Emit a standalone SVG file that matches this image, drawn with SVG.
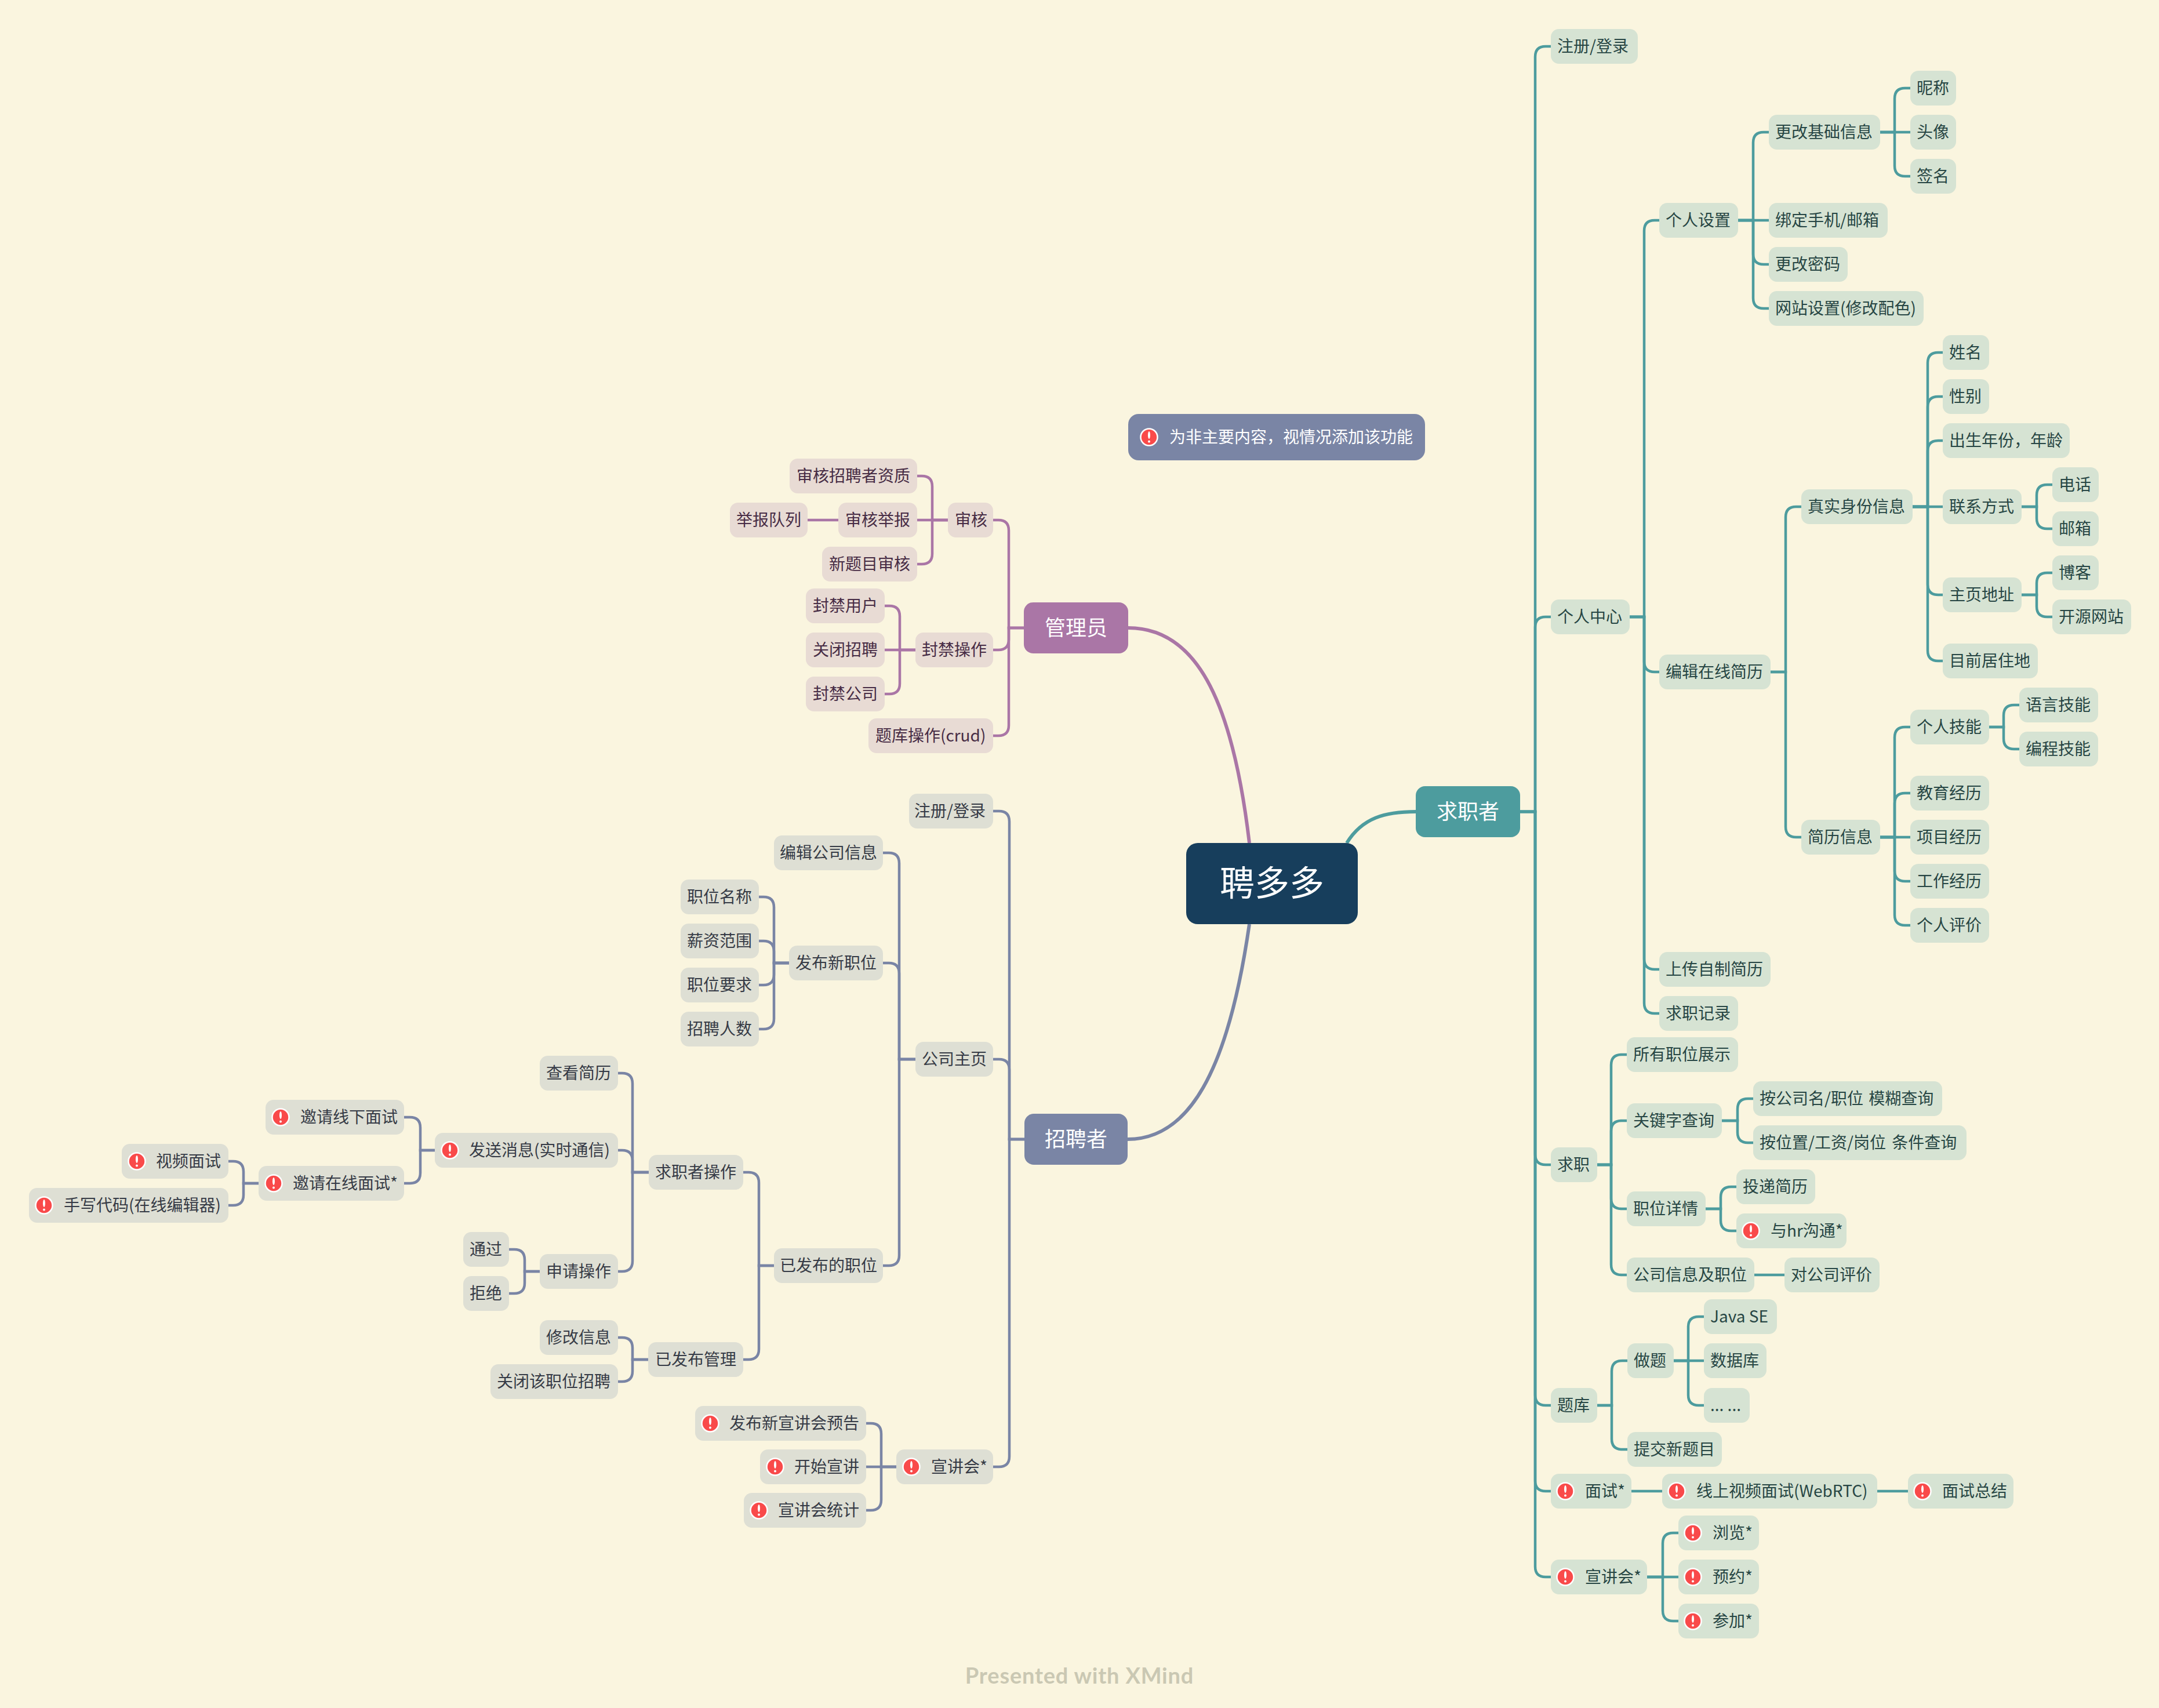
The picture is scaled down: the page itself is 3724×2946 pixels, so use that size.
<svg xmlns="http://www.w3.org/2000/svg" width="3724" height="2946" viewBox="0 0 3724 2946">
<style>
text{font-family:"Noto Sans CJK SC","Noto Sans",sans-serif;font-size:28px}
.c path{fill:none;stroke-width:4.5}
.ct path{stroke:#4d9c9e}.cp path{stroke:#aa76a6}.cs path{stroke:#7a85a5}
path.m{stroke-width:6}
.t rect{fill:#d6e3d3}.t text{fill:#274644;transform:translateX(-1px)}
.p rect{fill:#e8dbd4}.p text{fill:#472c45}
.s rect{fill:#dedfd4}.s text{fill:#363b46}
rect{rx:14px;ry:14px}
.h text{fill:#fff;font-size:36px;text-anchor:middle}
</style>
<defs><g id="warn"><circle r="14.5" fill="#f94a4a" stroke="#fff" stroke-width="2.5"/><rect x="-2" y="-10" width="4" height="13" rx="1" ry="1" fill="#fff"/><rect x="-2" y="5.5" width="4" height="4" rx="0.5" ry="0.5" fill="#fff"/></g></defs>
<rect x="0" y="0" width="3724" height="2946" fill="#faf5df" style="rx:0;ry:0"/>
<g id="connectors" class="c">
<g class="ct">
<path class="m" d="M2323 1454C2350 1410 2390 1400 2442 1400"/>
<path d="M2622 1400H2648V98Q2648 80 2666 80H2675"/>
<path d="M2622 1400H2648V1082Q2648 1064 2666 1064H2675"/>
<path d="M2622 1400H2648V1991Q2648 2009 2666 2009H2675"/>
<path d="M2622 1400H2648V2406Q2648 2424 2666 2424H2675"/>
<path d="M2622 1400H2648V2554Q2648 2572 2666 2572H2675"/>
<path d="M2622 1400H2648V2702Q2648 2720 2666 2720H2675"/>
<path d="M2811 1064H2836V398Q2836 380 2854 380H2862"/>
<path d="M2811 1064H2836V1141Q2836 1159 2854 1159H2862"/>
<path d="M2811 1064H2836V1654Q2836 1672 2854 1672H2862"/>
<path d="M2811 1064H2836V1730Q2836 1748 2854 1748H2862"/>
<path d="M2998 380H3024V246Q3024 228 3042 228H3051"/>
<path d="M2998 380H3051"/>
<path d="M2998 380H3024V438Q3024 456 3042 456H3051"/>
<path d="M2998 380H3024V514Q3024 532 3042 532H3051"/>
<path d="M3243 228H3268V170Q3268 152 3286 152H3295"/>
<path d="M3243 228H3295"/>
<path d="M3243 228H3268V286Q3268 304 3286 304H3295"/>
<path d="M3054 1159H3080V892Q3080 874 3098 874H3107"/>
<path d="M3054 1159H3080V1426Q3080 1444 3098 1444H3107"/>
<path d="M3299 874H3325V626Q3325 608 3343 608H3351"/>
<path d="M3299 874H3325V702Q3325 684 3343 684H3351"/>
<path d="M3299 874H3325V778Q3325 760 3343 760H3351"/>
<path d="M3299 874H3351"/>
<path d="M3299 874H3325V1008Q3325 1026 3343 1026H3351"/>
<path d="M3299 874H3325V1122Q3325 1140 3343 1140H3351"/>
<path d="M3487 874H3513V854Q3513 836 3531 836H3540"/>
<path d="M3487 874H3513V894Q3513 912 3531 912H3540"/>
<path d="M3487 1026H3513V1006Q3513 988 3531 988H3540"/>
<path d="M3487 1026H3513V1046Q3513 1064 3531 1064H3540"/>
<path d="M3243 1444H3268V1272Q3268 1254 3286 1254H3295"/>
<path d="M3243 1444H3268V1386Q3268 1368 3286 1368H3295"/>
<path d="M3243 1444H3295"/>
<path d="M3243 1444H3268V1502Q3268 1520 3286 1520H3295"/>
<path d="M3243 1444H3268V1578Q3268 1596 3286 1596H3295"/>
<path d="M3431 1254H3456V1234Q3456 1216 3474 1216H3483"/>
<path d="M3431 1254H3456V1274Q3456 1292 3474 1292H3483"/>
<path d="M2755 2009H2779V1837Q2779 1819 2797 1819H2806"/>
<path d="M2755 2009H2779V1951Q2779 1933 2797 1933H2806"/>
<path d="M2755 2009H2779V2067Q2779 2085 2797 2085H2806"/>
<path d="M2755 2009H2779V2181Q2779 2199 2797 2199H2806"/>
<path d="M2970 1933H2997V1913Q2997 1895 3015 1895H3024"/>
<path d="M2970 1933H2997V1953Q2997 1971 3015 1971H3024"/>
<path d="M2942 2085H2968V2065Q2968 2047 2986 2047H2995"/>
<path d="M2942 2085H2968V2105Q2968 2123 2986 2123H2995"/>
<path d="M3026 2199H3078"/>
<path d="M2755 2424H2780V2365Q2780 2347 2798 2347H2807"/>
<path d="M2755 2424H2780V2482Q2780 2500 2798 2500H2807"/>
<path d="M2887 2347H2912V2289Q2912 2271 2930 2271H2939"/>
<path d="M2887 2347H2939"/>
<path d="M2887 2347H2912V2406Q2912 2424 2930 2424H2939"/>
<path d="M2814 2572H2867"/>
<path d="M3238 2572H3291"/>
<path d="M2841 2720H2868V2662Q2868 2644 2886 2644H2895"/>
<path d="M2841 2720H2895"/>
<path d="M2841 2720H2868V2778Q2868 2796 2886 2796H2895"/>
</g>
<g class="cp">
<path class="m" d="M1946 1083C2060 1083 2125 1200 2155 1454"/>
<path d="M1766 1083H1740V915Q1740 897 1722 897H1713"/>
<path d="M1766 1083H1740V1103Q1740 1121 1722 1121H1713"/>
<path d="M1766 1083H1740V1251Q1740 1269 1722 1269H1713"/>
<path d="M1635 897H1608V839Q1608 821 1590 821H1582"/>
<path d="M1635 897H1582"/>
<path d="M1635 897H1608V955Q1608 973 1590 973H1582"/>
<path d="M1446 897H1393"/>
<path d="M1579 1121H1552V1063Q1552 1045 1534 1045H1526"/>
<path d="M1579 1121H1526"/>
<path d="M1579 1121H1552V1179Q1552 1197 1534 1197H1526"/>
</g>
<g class="cs">
<path class="m" d="M1945 1965C2050 1965 2118 1850 2155 1594"/>
<path d="M1767 1965H1741V1417Q1741 1399 1723 1399H1713"/>
<path d="M1767 1965H1741V1845Q1741 1827 1723 1827H1713"/>
<path d="M1767 1965H1741V2512Q1741 2530 1723 2530H1713"/>
<path d="M1579 1827H1551V1489Q1551 1471 1533 1471H1523"/>
<path d="M1579 1827H1551V1679Q1551 1661 1533 1661H1523"/>
<path d="M1579 1827H1551V2165Q1551 2183 1533 2183H1523"/>
<path d="M1361 1661H1335V1565Q1335 1547 1317 1547H1309"/>
<path d="M1361 1661H1335V1641Q1335 1623 1317 1623H1309"/>
<path d="M1361 1661H1335V1681Q1335 1699 1317 1699H1309"/>
<path d="M1361 1661H1335V1757Q1335 1775 1317 1775H1309"/>
<path d="M1335 2183H1309V2040Q1309 2022 1291 2022H1282"/>
<path d="M1335 2183H1309V2327Q1309 2345 1291 2345H1282"/>
<path d="M1119 2022H1091V1869Q1091 1851 1073 1851H1066"/>
<path d="M1119 2022H1091V2002Q1091 1984 1073 1984H1066"/>
<path d="M1119 2022H1091V2175Q1091 2193 1073 2193H1066"/>
<path d="M750 1984H725V1945Q725 1927 707 1927H697"/>
<path d="M750 1984H725V2023Q725 2041 707 2041H697"/>
<path d="M446 2041H420V2021Q420 2003 402 2003H394"/>
<path d="M446 2041H420V2061Q420 2079 402 2079H394"/>
<path d="M931 2193H905V2173Q905 2155 887 2155H878"/>
<path d="M931 2193H905V2213Q905 2231 887 2231H878"/>
<path d="M1118 2345H1091V2325Q1091 2307 1073 2307H1066"/>
<path d="M1118 2345H1091V2365Q1091 2383 1073 2383H1066"/>
<path d="M1546 2530H1520V2473Q1520 2455 1502 2455H1494"/>
<path d="M1546 2530H1494"/>
<path d="M1546 2530H1520V2587Q1520 2605 1502 2605H1494"/>
</g>
</g>
<g id="center" class="h"><rect x="2046" y="1454" width="296" height="140" fill="#173e5c" style="rx:20px;ry:20px"/><text x="2194" y="1545" style="font-size:60px">聘多多</text></g>
<g id="seeker" class="h"><rect x="2442" y="1356" width="180" height="88" fill="#4d9c9e" style="rx:16px;ry:16px"/><text x="2532" y="1413">求职者</text></g>
<g id="admin" class="h"><rect x="1766" y="1039" width="180" height="88" fill="#aa76a6" style="rx:16px;ry:16px"/><text x="1856" y="1096">管理员</text></g>
<g id="recruiter" class="h"><rect x="1767" y="1921" width="178" height="88" fill="#7a85a5" style="rx:16px;ry:16px"/><text x="1856" y="1978">招聘者</text></g>
<g id="legend"><rect x="1946" y="714" width="512" height="80" fill="#7a85a5" style="rx:18px;ry:18px"/><use href="#warn" x="1982" y="754"/><text x="2017" y="764" fill="#fff">为非主要内容，视情况添加该功能</text></g>
<g id="seeker-nodes" class="t">
<g id="t1"><rect x="2675" y="50" width="150" height="60"/><text x="2687" y="90">注册/登录</text></g>
<g id="t2"><rect x="2675" y="1034" width="136" height="60"/><text x="2687" y="1074">个人中心</text></g>
<g id="t3"><rect x="2862" y="350" width="136" height="60"/><text x="2874" y="390">个人设置</text></g>
<g id="t4"><rect x="3051" y="198" width="192" height="60"/><text x="3063" y="238">更改基础信息</text></g>
<g id="t5"><rect x="3295" y="122" width="79" height="60"/><text x="3307" y="162">昵称</text></g>
<g id="t6"><rect x="3295" y="198" width="79" height="60"/><text x="3307" y="238">头像</text></g>
<g id="t7"><rect x="3295" y="274" width="79" height="60"/><text x="3307" y="314">签名</text></g>
<g id="t8"><rect x="3051" y="350" width="205" height="60"/><text x="3063" y="390">绑定手机/邮箱</text></g>
<g id="t9"><rect x="3051" y="426" width="136" height="60"/><text x="3063" y="466">更改密码</text></g>
<g id="t10"><rect x="3051" y="502" width="267" height="60"/><text x="3063" y="542">网站设置(修改配色)</text></g>
<g id="t11"><rect x="2862" y="1129" width="192" height="60"/><text x="2874" y="1169">编辑在线简历</text></g>
<g id="t12"><rect x="3107" y="844" width="192" height="60"/><text x="3119" y="884">真实身份信息</text></g>
<g id="t13"><rect x="3351" y="578" width="80" height="60"/><text x="3363" y="618">姓名</text></g>
<g id="t14"><rect x="3351" y="654" width="80" height="60"/><text x="3363" y="694">性别</text></g>
<g id="t15"><rect x="3351" y="730" width="219" height="60"/><text x="3363" y="770">出生年份，年龄</text></g>
<g id="t16"><rect x="3351" y="844" width="136" height="60"/><text x="3363" y="884">联系方式</text></g>
<g id="t17"><rect x="3540" y="806" width="80" height="60"/><text x="3552" y="846">电话</text></g>
<g id="t18"><rect x="3540" y="882" width="80" height="60"/><text x="3552" y="922">邮箱</text></g>
<g id="t19"><rect x="3351" y="996" width="136" height="60"/><text x="3363" y="1036">主页地址</text></g>
<g id="t20"><rect x="3540" y="958" width="80" height="60"/><text x="3552" y="998">博客</text></g>
<g id="t21"><rect x="3540" y="1034" width="136" height="60"/><text x="3552" y="1074">开源网站</text></g>
<g id="t22"><rect x="3351" y="1110" width="164" height="60"/><text x="3363" y="1150">目前居住地</text></g>
<g id="t23"><rect x="3107" y="1414" width="136" height="60"/><text x="3119" y="1454">简历信息</text></g>
<g id="t24"><rect x="3295" y="1224" width="136" height="60"/><text x="3307" y="1264">个人技能</text></g>
<g id="t25"><rect x="3483" y="1186" width="136" height="60"/><text x="3495" y="1226">语言技能</text></g>
<g id="t26"><rect x="3483" y="1262" width="136" height="60"/><text x="3495" y="1302">编程技能</text></g>
<g id="t27"><rect x="3295" y="1338" width="136" height="60"/><text x="3307" y="1378">教育经历</text></g>
<g id="t28"><rect x="3295" y="1414" width="136" height="60"/><text x="3307" y="1454">项目经历</text></g>
<g id="t29"><rect x="3295" y="1490" width="136" height="60"/><text x="3307" y="1530">工作经历</text></g>
<g id="t30"><rect x="3295" y="1566" width="136" height="60"/><text x="3307" y="1606">个人评价</text></g>
<g id="t31"><rect x="2862" y="1642" width="192" height="60"/><text x="2874" y="1682">上传自制简历</text></g>
<g id="t32"><rect x="2862" y="1718" width="136" height="60"/><text x="2874" y="1758">求职记录</text></g>
<g id="t33"><rect x="2675" y="1979" width="80" height="60"/><text x="2687" y="2019">求职</text></g>
<g id="t34"><rect x="2806" y="1789" width="192" height="60"/><text x="2818" y="1829">所有职位展示</text></g>
<g id="t35"><rect x="2806" y="1903" width="164" height="60"/><text x="2818" y="1943">关键字查询</text></g>
<g id="t36"><rect x="3024" y="1865" width="326" height="60"/><text x="3036" y="1905" word-spacing="3">按公司名/职位 模糊查询</text></g>
<g id="t37"><rect x="3024" y="1941" width="368" height="60"/><text x="3036" y="1981" word-spacing="4">按位置/工资/岗位 条件查询</text></g>
<g id="t38"><rect x="2806" y="2055" width="136" height="60"/><text x="2818" y="2095">职位详情</text></g>
<g id="t39"><rect x="2995" y="2017" width="136" height="60"/><text x="3007" y="2057">投递简历</text></g>
<g id="t40"><rect x="2995" y="2093" width="190" height="60"/><use href="#warn" x="3020" y="2123"/><text x="3055" y="2133">与hr沟通*</text></g>
<g id="t41"><rect x="2806" y="2169" width="220" height="60"/><text x="2818" y="2209">公司信息及职位</text></g>
<g id="t42"><rect x="3078" y="2169" width="164" height="60"/><text x="3090" y="2209">对公司评价</text></g>
<g id="t43"><rect x="2675" y="2394" width="80" height="60"/><text x="2687" y="2434">题库</text></g>
<g id="t44"><rect x="2807" y="2317" width="80" height="60"/><text x="2819" y="2357">做题</text></g>
<g id="t45"><rect x="2939" y="2241" width="126" height="60"/><text x="2951" y="2281">Java SE</text></g>
<g id="t46"><rect x="2939" y="2317" width="108" height="60"/><text x="2951" y="2357">数据库</text></g>
<g id="t47"><rect x="2939" y="2394" width="79" height="60"/><text x="2951" y="2434">... ...</text></g>
<g id="t48"><rect x="2807" y="2470" width="163" height="60"/><text x="2819" y="2510">提交新题目</text></g>
<g id="t49"><rect x="2675" y="2542" width="139" height="60"/><use href="#warn" x="2700" y="2572"/><text x="2735" y="2582">面试*</text></g>
<g id="t50"><rect x="2867" y="2542" width="371" height="60"/><use href="#warn" x="2892" y="2572"/><text x="2927" y="2582">线上视频面试(WebRTC)</text></g>
<g id="t51"><rect x="3291" y="2542" width="182" height="60"/><use href="#warn" x="3316" y="2572"/><text x="3351" y="2582">面试总结</text></g>
<g id="t52"><rect x="2675" y="2690" width="166" height="60"/><use href="#warn" x="2700" y="2720"/><text x="2735" y="2730">宣讲会*</text></g>
<g id="t53"><rect x="2895" y="2614" width="139" height="60"/><use href="#warn" x="2920" y="2644"/><text x="2955" y="2654">浏览*</text></g>
<g id="t54"><rect x="2895" y="2690" width="139" height="60"/><use href="#warn" x="2920" y="2720"/><text x="2955" y="2730">预约*</text></g>
<g id="t55"><rect x="2895" y="2766" width="139" height="60"/><use href="#warn" x="2920" y="2796"/><text x="2955" y="2806">参加*</text></g>
</g>
<g id="admin-nodes" class="p">
<g id="p1"><rect x="1635" y="867" width="78" height="60"/><text x="1647" y="907">审核</text></g>
<g id="p2"><rect x="1362" y="791" width="220" height="60"/><text x="1374" y="831">审核招聘者资质</text></g>
<g id="p3"><rect x="1446" y="867" width="136" height="60"/><text x="1458" y="907">审核举报</text></g>
<g id="p4"><rect x="1259" y="867" width="134" height="60"/><text x="1270" y="907">举报队列</text></g>
<g id="p5"><rect x="1418" y="943" width="164" height="60"/><text x="1430" y="983">新题目审核</text></g>
<g id="p6"><rect x="1579" y="1091" width="134" height="60"/><text x="1590" y="1131">封禁操作</text></g>
<g id="p7"><rect x="1390" y="1015" width="136" height="60"/><text x="1402" y="1055">封禁用户</text></g>
<g id="p8"><rect x="1390" y="1091" width="136" height="60"/><text x="1402" y="1131">关闭招聘</text></g>
<g id="p9"><rect x="1390" y="1167" width="136" height="60"/><text x="1402" y="1207">封禁公司</text></g>
<g id="p10"><rect x="1498" y="1239" width="215" height="60"/><text x="1510" y="1279">题库操作(crud)</text></g>
</g>
<g id="recruiter-nodes" class="s">
<g id="s1"><rect x="1568" y="1369" width="145" height="60"/><text x="1577" y="1409">注册/登录</text></g>
<g id="s2"><rect x="1579" y="1797" width="134" height="60"/><text x="1590" y="1837">公司主页</text></g>
<g id="s3"><rect x="1335" y="1441" width="188" height="60"/><text x="1345" y="1481">编辑公司信息</text></g>
<g id="s4"><rect x="1361" y="1631" width="162" height="60"/><text x="1372" y="1671">发布新职位</text></g>
<g id="s5"><rect x="1174" y="1517" width="135" height="60"/><text x="1185" y="1557">职位名称</text></g>
<g id="s6"><rect x="1174" y="1593" width="135" height="60"/><text x="1185" y="1633">薪资范围</text></g>
<g id="s7"><rect x="1174" y="1669" width="135" height="60"/><text x="1185" y="1709">职位要求</text></g>
<g id="s8"><rect x="1174" y="1745" width="135" height="60"/><text x="1185" y="1785">招聘人数</text></g>
<g id="s9"><rect x="1335" y="2153" width="188" height="60"/><text x="1345" y="2193">已发布的职位</text></g>
<g id="s10"><rect x="1119" y="1992" width="163" height="60"/><text x="1130" y="2032">求职者操作</text></g>
<g id="s11"><rect x="931" y="1821" width="135" height="60"/><text x="942" y="1861">查看简历</text></g>
<g id="s12"><rect x="750" y="1954" width="316" height="60"/><use href="#warn" x="776" y="1984"/><text x="809" y="1994">发送消息(实时通信)</text></g>
<g id="s13"><rect x="458" y="1897" width="239" height="60"/><use href="#warn" x="484" y="1927"/><text x="518" y="1937">邀请线下面试</text></g>
<g id="s14"><rect x="446" y="2011" width="251" height="60"/><use href="#warn" x="472" y="2041"/><text x="505" y="2051">邀请在线面试*</text></g>
<g id="s15"><rect x="210" y="1973" width="184" height="60"/><use href="#warn" x="236" y="2003"/><text x="269" y="2013">视频面试</text></g>
<g id="s16"><rect x="50" y="2049" width="344" height="60"/><use href="#warn" x="76" y="2079"/><text x="110" y="2089">手写代码(在线编辑器)</text></g>
<g id="s17"><rect x="931" y="2163" width="135" height="60"/><text x="942" y="2203">申请操作</text></g>
<g id="s18"><rect x="799" y="2125" width="79" height="60"/><text x="810" y="2165">通过</text></g>
<g id="s19"><rect x="799" y="2201" width="79" height="60"/><text x="810" y="2241">拒绝</text></g>
<g id="s20"><rect x="1118" y="2315" width="164" height="60"/><text x="1130" y="2355">已发布管理</text></g>
<g id="s21"><rect x="931" y="2277" width="135" height="60"/><text x="942" y="2317">修改信息</text></g>
<g id="s22"><rect x="846" y="2353" width="220" height="60"/><text x="857" y="2393">关闭该职位招聘</text></g>
<g id="s23"><rect x="1546" y="2500" width="167" height="60"/><use href="#warn" x="1572" y="2530"/><text x="1606" y="2540">宣讲会*</text></g>
<g id="s24"><rect x="1199" y="2425" width="295" height="60"/><use href="#warn" x="1225" y="2455"/><text x="1258" y="2465">发布新宣讲会预告</text></g>
<g id="s25"><rect x="1311" y="2500" width="183" height="60"/><use href="#warn" x="1337" y="2530"/><text x="1370" y="2540">开始宣讲</text></g>
<g id="s26"><rect x="1283" y="2575" width="211" height="60"/><use href="#warn" x="1309" y="2605"/><text x="1342" y="2615">宣讲会统计</text></g>
</g>
<text id="credit" x="1862" y="2904" text-anchor="middle" letter-spacing="0.8" style="font-family:Lato,sans-serif;font-size:38px;font-weight:700" fill="#cac8b3">Presented with XMind</text>
</svg>
